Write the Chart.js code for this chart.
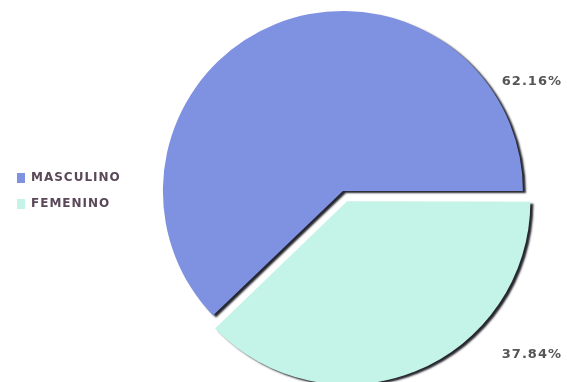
<!DOCTYPE html>
<html lang="es">
<head>
    <meta charset="UTF-8">
    <title>Sexo</title>
    <script src="https://cdn.jsdelivr.net/npm/chart.js@4.4.0/dist/chart.umd.min.js"></script>
    <style>
        html, body {
            margin: 0;
            padding: 0;
            background: #ffffff;
        }
        .chart-container {
            position: relative;
            width: 567px;
            height: 382px;
        }
    </style>
</head>
<body>
    <div class="chart-container">
        <canvas id="sexoChart"></canvas>
    </div>

    <script>
        const categorias = ['MASCULINO', 'FEMENINO'];
        const porcentajes = [62.16, 37.84];
        const colores = ['#7f91e1', '#c4f4e8'];

        // desplazamiento de cada etiqueta respecto al centro, en fracciones del radio
        const posEtiquetas = [
            { dx: 1.05, dy: -0.61 },
            { dx: 1.05, dy: 0.91 }
        ];

        // texto algo espaciado, también en la leyenda
        const espaciado = {
            id: 'espaciado',
            beforeUpdate(chart) {
                chart.ctx.letterSpacing = '1px';
            }
        };

        // sombra oscura bajo los sectores
        const sombra = {
            id: 'sombra',
            beforeDatasetDraw(chart) {
                const ctx = chart.ctx;
                ctx.save();
                ctx.shadowColor = 'rgba(25, 25, 35, 0.95)';
                ctx.shadowOffsetX = 3;
                ctx.shadowOffsetY = 2;
                ctx.shadowBlur = 2;
            },
            afterDatasetDraw(chart) {
                chart.ctx.restore();
            }
        };

        // porcentajes a la derecha del pastel
        const etiquetas = {
            id: 'etiquetas',
            afterDatasetsDraw(chart) {
                const ctx = chart.ctx;
                const meta = chart.getDatasetMeta(0);
                const datos = chart.data.datasets[0].data;
                const total = datos.reduce((a, b) => a + b, 0);
                ctx.save();
                ctx.font = 'bold 13px "DejaVu Sans"';
                ctx.letterSpacing = '1px';
                ctx.fillStyle = '#555555';
                ctx.textAlign = 'center';
                ctx.textBaseline = 'middle';
                meta.data.forEach((arc, i) => {
                    const r = arc.outerRadius;
                    const texto = (datos[i] / total * 100).toFixed(2) + '%';
                    ctx.fillText(texto, arc.x + posEtiquetas[i].dx * r, arc.y + posEtiquetas[i].dy * r);
                });
                ctx.restore();
            }
        };

        const ctx = document.getElementById('sexoChart').getContext('2d');
        new Chart(ctx, {
            type: 'pie',
            data: {
                labels: categorias,
                datasets: [{
                    data: porcentajes,
                    backgroundColor: colores,
                    borderWidth: 0,
                    // el arco divide el desplazamiento entre 4: 44 -> 11 px
                    offset: [0, 44],
                    radius: 180
                }]
            },
            options: {
                responsive: true,
                maintainAspectRatio: false,
                animation: false,
                rotation: 226.2,
                layout: {
                    padding: { left: 3, right: 12, top: 0, bottom: 0 }
                },
                plugins: {
                    tooltip: { enabled: false },
                    legend: {
                        position: 'left',
                        labels: {
                            boxWidth: 8,
                            boxHeight: 10,
                            padding: 14,
                            color: '#5a4858',
                            font: { family: 'DejaVu Sans', size: 12, weight: 'bold' }
                        }
                    }
                }
            },
            plugins: [espaciado, sombra, etiquetas]
        });
    </script>
</body>
</html>
